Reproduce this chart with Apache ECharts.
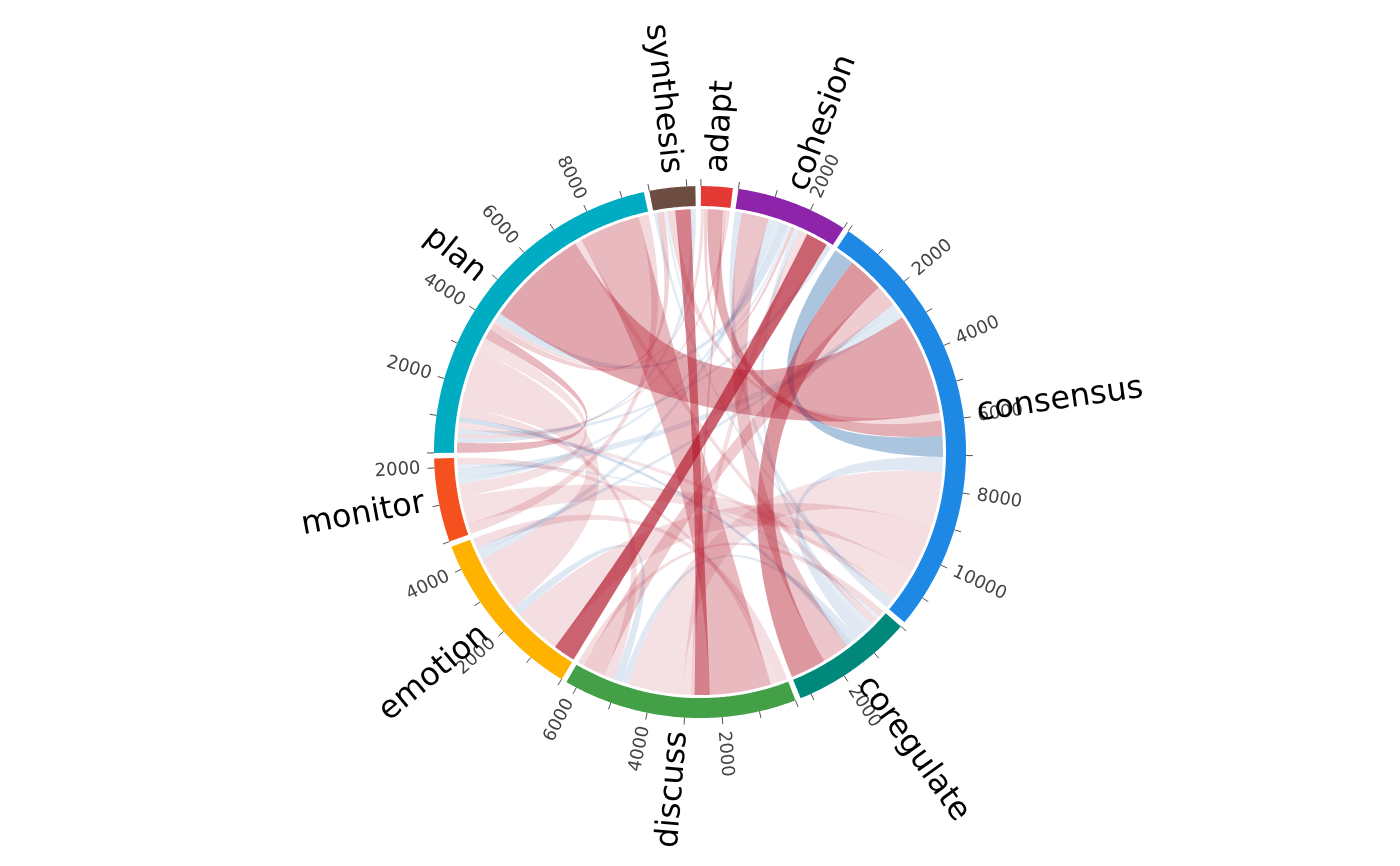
<!DOCTYPE html>
<html>
<head>
<meta charset="utf-8">
<script src="https://cdn.jsdelivr.net/npm/echarts@6/dist/echarts.min.js"></script>
<style>
html,body{margin:0;padding:0;background:#ffffff;}
#chart{width:1400px;height:866px;}
</style>
</head>
<body>
<div id="chart"></div>
<script>
// ---------------- DATA ----------------
const categories = ['adapt','cohesion','consensus','coregulate','discuss','emotion','monitor','plan','synthesis'];
const sectorColors = ['#E53935','#8E24AA','#1E88E5','#00897B','#43A047','#FFB300','#F4511E','#00ACC1','#6D4C41'];

const linkSource = ['consensus','consensus','consensus','consensus','consensus','consensus','consensus','consensus',
  'coregulate','discuss','emotion','monitor','plan','synthesis','cohesion',
  'plan','plan','plan','plan','plan','plan','plan',
  'synthesis','adapt','cohesion','coregulate','discuss','monitor','plan',
  'discuss','discuss','discuss','discuss','discuss','discuss','emotion','coregulate',
  'emotion','cohesion','cohesion','cohesion','cohesion','cohesion','coregulate','coregulate'];
const linkTarget = ['consensus','coregulate','discuss','emotion','monitor','plan','synthesis','adapt',
  'consensus','consensus','consensus','consensus','consensus','consensus','consensus',
  'synthesis','adapt','cohesion','coregulate','discuss','emotion','monitor',
  'plan','plan','plan','plan','plan','plan','plan',
  'emotion','monitor','synthesis','adapt','cohesion','coregulate','discuss','discuss',
  'cohesion','coregulate','emotion','monitor','synthesis','adapt','cohesion','monitor'];
const linkValue = [610,1050,650,150,300,3000,230,450,
  450,1600,1400,800,200,100,200,
  150,100,150,150,300,1700,400,
  200,100,250,200,1800,300,300,
  300,200,450,100,250,200,250,200,
  650,800,200,150,100,100,150,100];
// signed strength: sign -> colour (red +, blue -), magnitude -> opacity
const linkResidual = [-0.38,0.45,0.22,-0.14,-0.13,0.38,0.16,0.35,
  -0.14,0.13,0.14,0.13,0.12,-0.13,-0.14,
  -0.14,0.15,-0.14,-0.2,0.14,0.14,0.13,
  0.2,0.15,-0.16,0.14,0.3,0.16,0.3,
  0.14,0.13,0.55,0.2,0.13,-0.14,-0.15,0.15,
  0.68,0.25,-0.13,-0.12,-0.1,0.2,-0.12,-0.1];
const tickStep = 1000;
const labelStep = 2000;

// ---------------- LAYOUT (derived from data) ----------------
const n = categories.length;
const GAP = 1.2, START = 0.2;
const R_OUT = 266, R_IN = 246, R_LINK = 243, R_TICK0 = 266, R_TICK1 = 273, R_LABEL = 280;
const idx = {}; categories.forEach((c,i)=>idx[c]=i);
const totals = categories.map(()=>0);
linkValue.forEach((v,k)=>{ totals[idx[linkSource[k]]]+=v; totals[idx[linkTarget[k]]]+=v; });
const grand = totals.reduce((a,b)=>a+b,0);
const unit = (360 - n*GAP)/grand;
const secStart = [], secEnd = [];
let cur = START;
for(let i=0;i<n;i++){ secStart.push(cur); cur += totals[i]*unit; secEnd.push(cur); cur += GAP; }

// within a sector: outgoing ends first, then incoming ends, each by clockwise offset of the partner
const ends = categories.map(()=>[]);
linkValue.forEach((v,k)=>{
  const s = idx[linkSource[k]], t = idx[linkTarget[k]];
  ends[s].push({k, kind:'out', key: (t-s+n)%n});
  ends[t].push({k, kind:'in',  key: 100 + (s-t+n)%n});
});
const geom = linkValue.map(()=>({}));
ends.forEach((list,i)=>{
  list.sort((a,b)=> (a.key-b.key) || ((a.kind==='out')?-1:1));
  let a = secStart[i];
  list.forEach(e=>{
    const w = linkValue[e.k]*unit;
    if(e.kind==='out'){ geom[e.k].s0=a; geom[e.k].s1=a+w; }
    else { geom[e.k].t0=a; geom[e.k].t1=a+w; }
    a += w;
  });
});

function arcPts(api, r, a0, a1){
  const pts = [];
  const steps = Math.max(2, Math.ceil(Math.abs(a1-a0)/0.4));
  for(let i=0;i<=steps;i++) pts.push(api.coord([r, a0+(a1-a0)*i/steps]));
  return pts;
}
function quad(p0, c, p2){
  const pts = [];
  const steps = 60;
  for(let i=1;i<steps;i++){
    const t=i/steps, u=1-t;
    pts.push([u*u*p0[0]+2*u*t*c[0]+t*t*p2[0], u*u*p0[1]+2*u*t*c[1]+t*t*p2[1]]);
  }
  return pts;
}

const linkOrder = linkValue.map((v,k)=>k).sort((a,b)=>Math.abs(linkResidual[a])-Math.abs(linkResidual[b]));

function rotFor(theta){
  const right = (theta % 360) < 180;
  return right ? {rot:(90-theta)*Math.PI/180, align:'left'} : {rot:(270-theta)*Math.PI/180, align:'right'};
}

const chart = echarts.init(document.getElementById('chart'), null, {renderer:'canvas'});
chart.setOption({
  backgroundColor:'#ffffff',
  animation:false,
  polar:{center:['50%','52.2%'], radius:R_OUT},
  angleAxis:{type:'value', min:0, max:360, startAngle:90, clockwise:true, show:false},
  radiusAxis:{type:'value', min:0, max:R_OUT, show:false},
  series:[
    { // links
      type:'custom', coordinateSystem:'polar', silent:true, z:1,
      data: linkOrder.map(k=>[R_LINK, geom[k].s0]),
      renderItem:function(params, api){
        const k = linkOrder[params.dataIndex];
        const g = geom[k];
        const c = api.coord([0,0]);
        const A = arcPts(api, R_LINK, g.s0, g.s1);
        const B = arcPts(api, R_LINK, g.t0, g.t1);
        const pts = [].concat(A, quad(A[A.length-1], c, B[0]), B, quad(B[B.length-1], c, A[0]));
        const r = linkResidual[k];
        const op = Math.min(0.85, Math.abs(r));
        const col = r >= 0 ? 'rgba(178,24,43,'+op+')' : 'rgba(33,102,172,'+op+')';
        return {type:'polygon', z2: Math.round(op*100), shape:{points:pts}, style:{fill:col, stroke:null}};
      }
    },
    { // sector ring
      type:'custom', coordinateSystem:'polar', silent:true, z:2,
      data: categories.map((c,i)=>[R_OUT, secStart[i]]),
      renderItem:function(params, api){
        const i = params.dataIndex;
        const outer = arcPts(api, R_OUT, secStart[i], secEnd[i]);
        const inner = arcPts(api, R_IN, secEnd[i], secStart[i]);
        return {type:'polygon', shape:{points: outer.concat(inner)}, style:{fill: sectorColors[i]}};
      }
    },
    { // ticks, tick labels, names
      type:'custom', coordinateSystem:'polar', silent:true, z:3,
      data: categories.map((c,i)=>[R_LABEL, (secStart[i]+secEnd[i])/2]),
      renderItem:function(params, api){
        const i = params.dataIndex;
        const children = [];
        for(let v=0; v<=totals[i]; v+=tickStep){
          const ang = secStart[i] + v*unit;
          const p0 = api.coord([R_TICK0, ang]), p1 = api.coord([R_TICK1, ang]);
          children.push({type:'line', shape:{x1:p0[0],y1:p0[1],x2:p1[0],y2:p1[1]}, style:{stroke:'#555555', lineWidth:1}});
          if(v>0 && v % labelStep === 0){
            const pl = api.coord([R_LABEL, ang]);
            const o = rotFor(ang);
            children.push({type:'text', x:pl[0], y:pl[1], rotation:o.rot,
              style:{text:String(v), fill:'#444444', fontSize:18, fontFamily:'DejaVu Sans', align:o.align, verticalAlign:'middle'}});
          }
        }
        const mid = (secStart[i]+secEnd[i])/2;
        const pn = api.coord([R_LABEL, mid]);
        const o = rotFor(mid);
        children.push({type:'text', x:pn[0], y:pn[1], rotation:o.rot,
          style:{text:categories[i], fill:'#000000', fontSize:32, fontFamily:'DejaVu Sans', align:o.align, verticalAlign:'middle'}});
        return {type:'group', children};
      }
    }
  ]
});
</script>
</body>
</html>
